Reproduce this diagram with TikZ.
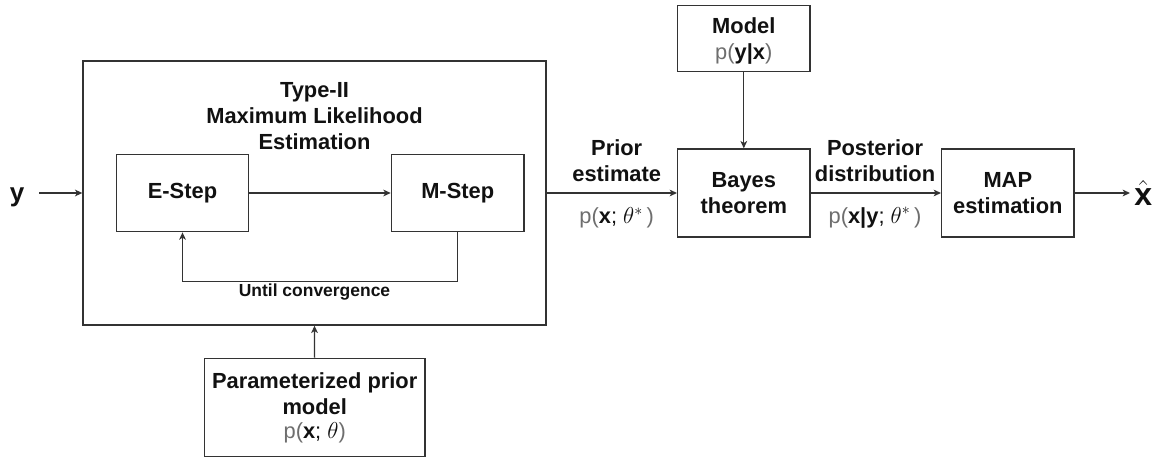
\documentclass[tikz,border=0pt]{standalone}
\usepackage{fontspec}
\setmainfont{Liberation Sans}
\usetikzlibrary{arrows.meta}
\definecolor{ln}{HTML}{333333}
\definecolor{fg}{HTML}{6E6E6E}
\definecolor{tx}{HTML}{111111}
\def\pxu{0.75pt}
\newcommand\pformula[1]{{\color{fg}p(}#1{\color{fg})}}
\tikzset{
  box/.style={draw=ln, line width=1pt, rectangle, inner sep=0pt, align=center, text=tx,
    font={\fontsize{16.4}{19.5}\selectfont\bfseries}},
  lbl/.style={inner sep=0pt, align=center, text=tx, font={\fontsize{16.4}{19.5}\selectfont\bfseries}},
  frm/.style={inner sep=0pt, align=center, text=tx, font={\fontsize{16.4}{19.5}\selectfont}},
  con/.style={draw=ln, line width=1pt, -{Stealth[length=5.5pt,width=5pt,inset=1.5pt]}},
}
\begin{document}
\begin{tikzpicture}[x=0.75pt, y=-0.75pt]
\useasboundingbox (0,0) rectangle (1169,460);
% outer box
\node[box, minimum width={463*\pxu}, minimum height={264*\pxu}] (T) at (314.5,193) {};
\node[lbl] (title) at (314.5,116) {Type-II\\Maximum Likelihood\\Estimation};
\node[box, minimum width={132.4*\pxu}, minimum height={77.4*\pxu}] (E) at (182.5,193) {E-Step};
\node[box, minimum width={132.7*\pxu}, minimum height={77.4*\pxu}] (M) at (457.7,193) {M-Step};
\node[lbl, font={\fontsize{13.1}{15.7}\selectfont\bfseries}] (until) at (314.5,292) {Until convergence};
% bottom
\node[box, minimum width={220.7*\pxu}, minimum height={98.4*\pxu}] (P) at (314.7,407.5) {};
\node[lbl] (Ptxt) at (314.7,394) {Parameterized prior\\model};
\node[frm] (Pf) at (314.7,433) {\pformula{\textbf{x}; $\theta$}};
% right part
\node[box, minimum width={132.3*\pxu}, minimum height={66*\pxu}] (Mod) at (743.8,38.7) {};
\node[lbl] (Modt) at (743.8,26) {Model};
\node[frm] (Modf) at (743.8,54) {\pformula{\textbf{y|x}}};
\node[box, minimum width={132.3*\pxu}, minimum height={88*\pxu}] (B) at (743.8,193) {Bayes\\theorem};
\node[box, minimum width={132.3*\pxu}, minimum height={88*\pxu}] (MAP) at (1007.8,193) {MAP\\estimation};
\node[lbl, font={\fontsize{19.5}{23}\selectfont\bfseries}] (y) at (17,197) {y};
\node[lbl, font={\fontsize{24}{28}\selectfont}, anchor=west, inner xsep=3pt] (xh) at (1130,193) {$\hat{\mathbf{x}}$};
\coordinate (yend) at (39,193);
% labels on arrows
\node[lbl] (pr) at (616.7,161) {Prior\\estimate};
\node[frm] (prf) at (616.7,217.7) {\pformula{\textbf{x}; $\theta^{*}$\,}};
\node[lbl] (po) at (875,161) {Posterior\\distribution};
\node[frm] (pof) at (875,217.7) {\pformula{\textbf{x|y}; $\theta^{*}$\,}};
% connectors
\draw[con] (yend) -- (T.west);
\draw[con] (E) -- (M);
\draw[con] (M.south) -- ++(0,49.3) -| (E.south);
\draw[con] (P) -- (T.south);
\draw[con] (T.east) -- (B.west);
\draw[con] (Mod) -- (B);
\draw[con] (B) -- (MAP);
\draw[con] (MAP.east) -- (MAP.east -| xh.west);
\end{tikzpicture}
\end{document}
